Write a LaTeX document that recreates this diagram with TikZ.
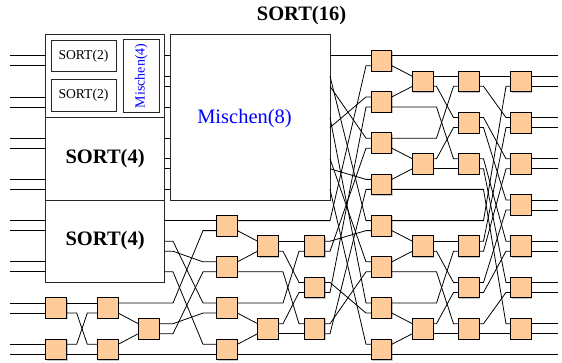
\documentclass[tikz,border=0pt]{standalone}
\usepackage{fontspec}
\setmainfont{Liberation Serif}
\usetikzlibrary{shadows}
\definecolor{peach}{RGB}{255,204,153}
\definecolor{mblue}{RGB}{0,0,255}
\newcommand{\cmp}[3]{%
  \node[cmpbox] (#1) at (#2,#3) {};
  \coordinate (#1it) at ([yshift=5pt]#1.west);
  \coordinate (#1ib) at ([yshift=-5pt]#1.west);
  \coordinate (#1ot) at ([yshift=5pt]#1.east);
  \coordinate (#1ob) at ([yshift=-5pt]#1.east);
}
\newcommand{\via}[4]{\draw[wire] (#1) -- (#1 -| #3) -- (#2 -| #4) -- (#2);}
\newcommand{\lnk}[2]{\draw[wire] (#1) -- (#2);}
\begin{document}
\begin{tikzpicture}[x=1pt,y=-1pt,
  cmpbox/.style={draw=black, line width=0.8pt, fill=peach, minimum width=20.8pt,
    minimum height=20.8pt, inner sep=0pt, outer sep=0pt,
    drop shadow={shadow xshift=0.9pt, shadow yshift=-0.9pt, fill=black!45}},
  wire/.style={line width=0.8pt, black},
  blk/.style={draw=black!85, line width=0.9pt, fill=white, inner sep=0pt, outer sep=0pt},
  bigbold/.style={font=\fontsize{20.5}{24}\selectfont\bfseries},
  small/.style={font=\fontsize{13.6}{16}\selectfont}]
\useasboundingbox (0,0) rectangle (562,363);

% title
\node[bigbold] (title) at (301.5,16) {SORT(16)};

% block boxes
\node[blk, minimum width=118.8pt, minimum height=82.8pt] (sort4a) at (105.1,75.9) {};
\node[blk, small, minimum width=65pt, minimum height=31.7pt] (sort2a) at (83.5,55.85) {SORT(2)};
\node[blk, small, minimum width=65pt, minimum height=32pt] (sort2b) at (83.5,95.5) {SORT(2)};
\node[blk, minimum width=36pt, minimum height=73pt] (misch4) at (141.3,75.8) {};
\node[font=\fontsize{14}{16}\selectfont, text=mblue, rotate=90] (misch4t) at (141.3,75.8) {Mischen(4)};
\node[blk, bigbold, minimum width=118.8pt, minimum height=82.7pt] (sort4b) at (105.1,158.65) {SORT(4)};
\node[blk, bigbold, minimum width=118.8pt, minimum height=82pt] (sort4c) at (105.1,241) {SORT(4)};
\node[blk, minimum width=160pt, minimum height=165.5pt] (misch8) at (250,117.25) {};
\node[font=\fontsize{20.5}{24}\selectfont, text=mblue] (misch8t) at (244.5,118.5) {Mischen(8)};

% comparators
\cmp{a6}{56.2}{308.08} \cmp{a7}{56.2}{349.31}
\cmp{b6}{107.8}{308.08} \cmp{b7}{107.8}{349.31}
\cmp{c67}{148.7}{328.70}
\cmp{d4}{227}{225.62} \cmp{d5}{227}{266.85} \cmp{d6}{227}{308.08} \cmp{d7}{227}{349.31}
\cmp{e45}{268}{246.24} \cmp{e67}{268}{328.70}
\cmp{f45}{314.4}{246.24} \cmp{f56}{314.4}{287.47} \cmp{f67}{314.4}{328.70}
\cmp{g0}{381.4}{60.70} \cmp{g1}{381.4}{101.93} \cmp{g2}{381.4}{143.16} \cmp{g3}{381.4}{184.39}
\cmp{g4}{381.4}{225.62} \cmp{g5}{381.4}{266.85} \cmp{g6}{381.4}{308.08} \cmp{g7}{381.4}{349.31}
\cmp{h01}{422.8}{81.32} \cmp{h23}{422.8}{163.78} \cmp{h45}{422.8}{246.24} \cmp{h67}{422.8}{328.70}
\cmp{i01}{468.9}{81.32} \cmp{i12}{468.9}{122.55} \cmp{i23}{468.9}{163.78}
\cmp{i45}{468.9}{246.24} \cmp{i56}{468.9}{287.47} \cmp{i67}{468.9}{328.70}
\cmp{j01}{521}{81.32} \cmp{j12}{521}{122.55} \cmp{j23}{521}{163.78} \cmp{j34}{521}{205.00}
\cmp{j45}{521}{246.24} \cmp{j56}{521}{287.47} \cmp{j67}{521}{328.70}

% gap coordinates
\coordinate (ab1) at (76.7,0); \coordinate (ab2) at (87.3,0);
\coordinate (cd1) at (173,0); \coordinate (cd2) at (203,0);
\coordinate (ef1) at (283,0); \coordinate (ef2) at (299,0);
\coordinate (fg1) at (330,0); \coordinate (fg2) at (366,0);
\coordinate (hi1) at (436.5,0); \coordinate (hi2) at (453.5,0);
\coordinate (ij1) at (483.5,0); \coordinate (ij2) at (506,0);
\coordinate (redge) at (558,0);

% left inputs
\foreach \y [count=\i] in {55.70,65.70,96.93,106.93,138.16,148.16,179.39,189.39,220.62,230.62,261.85,271.85}
  {\coordinate (L\i) at (10,\y); \draw[wire] (L\i) -- (L\i -| sort4a.west);}
\coordinate (L13) at (10,303.08); \coordinate (L14) at (10,313.08);
\coordinate (L15) at (10,344.31); \coordinate (L16) at (10,354.31);
\lnk{L13}{a6it} \lnk{L14}{a6ib} \lnk{L15}{a7it} \lnk{L16}{a7ib}

% sort(4) outputs into Mischen(8)
\foreach \y [count=\i] in {55.70,76.32,86.32,106.93,138.16,158.78,168.78,189.39}
  {\coordinate (so\i) at (164.5,\y); \draw[wire] (so\i) -- (so\i -| misch8.west);}
% Mischen(8) outputs
\foreach \y [count=\i] in {55.70,76.32,86.32,117.55,127.55,158.78,168.78,189.39}
  {\coordinate (mo\i) at (330,\y);}
% lower SORT(4) outputs
\foreach \y [count=\i] in {220.62,241.24,251.24,271.85}
  {\coordinate (k\i) at (164.5,\y);}

% small SORT(4) network
\lnk{a6ot}{b6it} \via{a6ob}{b7it}{ab1}{ab2} \via{a7ot}{b6ib}{ab1}{ab2} \lnk{a7ob}{b7ib}
\lnk{b6ob}{c67it} \lnk{b7ot}{c67ib}

% into D
\lnk{k1}{d4it}
\via{b6ot}{d4ib}{cd1}{cd2}
\via{k3}{d5it}{cd1}{cd2}
\via{c67ob}{d5ib}{cd1}{cd2}
\via{k2}{d6it}{cd1}{cd2}
\via{c67ot}{d6ib}{cd1}{cd2}
\via{k4}{d7it}{cd1}{cd2}
\lnk{b7ob}{d7ib}

% D -> E
\lnk{d4ob}{e45it} \lnk{d5ot}{e45ib} \lnk{d6ob}{e67it} \lnk{d7ot}{e67ib}

% -> F
\lnk{e45ot}{f45it}
\via{d6ot}{f45ib}{ef1}{ef2}
\via{e45ob}{f56it}{ef1}{ef2}
\via{e67ot}{f56ib}{ef1}{ef2}
\via{d5ob}{f67it}{ef1}{ef2}
\lnk{e67ob}{f67ib}

% -> G
\lnk{mo1}{g0it}
\via{d4ot}{g0ib}{fg1}{fg2}
\via{mo5}{g1it}{fg1}{fg2}
\via{f56ob}{g1ib}{fg1}{fg2}
\via{mo3}{g2it}{fg1}{fg2}
\via{f45ob}{g2ib}{fg1}{fg2}
\via{mo7}{g3it}{fg1}{fg2}
\via{f67ob}{g3ib}{fg1}{fg2}
\via{mo2}{g4it}{fg1}{fg2}
\via{f45ot}{g4ib}{fg1}{fg2}
\via{mo6}{g5it}{fg1}{fg2}
\via{f67ot}{g5ib}{fg1}{fg2}
\via{mo4}{g6it}{fg1}{fg2}
\via{f56ot}{g6ib}{fg1}{fg2}
\via{mo8}{g7it}{fg1}{fg2}
\lnk{d7ob}{g7ib}

% G -> H
\lnk{g0ob}{h01it} \lnk{g1ot}{h01ib} \lnk{g2ob}{h23it} \lnk{g3ot}{h23ib}
\lnk{g4ob}{h45it} \lnk{g5ot}{h45ib} \lnk{g6ob}{h67it} \lnk{g7ot}{h67ib}

% -> I
\lnk{h01ot}{i01it}
\via{g2ot}{i01ib}{hi1}{hi2}
\via{h01ob}{i12it}{hi1}{hi2}
\via{h23ot}{i12ib}{hi1}{hi2}
\via{g1ob}{i23it}{hi1}{hi2}
\lnk{h23ob}{i23ib}
\lnk{h45ot}{i45it}
\via{g6ot}{i45ib}{hi1}{hi2}
\via{h45ob}{i56it}{hi1}{hi2}
\via{h67ot}{i56ib}{hi1}{hi2}
\via{g5ob}{i67it}{hi1}{hi2}
\lnk{h67ob}{i67ib}

% -> J
\lnk{i01ot}{j01it}
\via{g4ot}{j01ib}{ij1}{ij2}
\via{i01ob}{j12it}{ij1}{ij2}
\via{i45ot}{j12ib}{ij1}{ij2}
\via{i12ot}{j23it}{ij1}{ij2}
\via{i45ob}{j23ib}{ij1}{ij2}
\via{i12ob}{j34it}{ij1}{ij2}
\via{i56ot}{j34ib}{ij1}{ij2}
\via{i23ot}{j45it}{ij1}{ij2}
\via{i56ob}{j45ib}{ij1}{ij2}
\via{i23ob}{j56it}{ij1}{ij2}
\via{i67ot}{j56ib}{ij1}{ij2}
\via{g3ob}{j67it}{ij1}{ij2}
\lnk{i67ob}{j67ib}

% outputs
\draw[wire] (g0ot) -- (g0ot -| redge);
\draw[wire] (g7ob) -- (g7ob -| redge);
\foreach \n in {j01,j12,j23,j34,j45,j56,j67}
  {\draw[wire] (\n ot) -- (\n ot -| redge); \draw[wire] (\n ob) -- (\n ob -| redge);}
\end{tikzpicture}
\end{document}
